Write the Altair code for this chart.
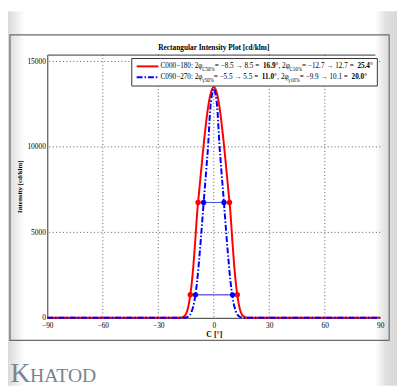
import altair as alt
import pandas as pd

# ---------------- data ----------------
angles = [-90, -60, -30, -25, -20, -19, -18, -17, -16, -15, -14, -13, -12, -11, -10,
          -9, -8, -7, -6, -5, -4, -3, -2, -1, 0, 1, 2, 3, 4, 5, 6, 7, 8, 9, 10,
          11, 12, 13, 14, 15, 16, 17, 18, 19, 20, 25, 30, 60, 90]
red_c000 = [0, 0, 0, 0, 0, 4, 12, 35, 90, 230, 550, 1130, 1950, 3100, 4550,
            6150, 7310, 8440, 9560, 10630, 11580, 12380, 12990, 13370, 13500,
            13370, 12990, 12380, 11580, 10630, 9560, 8440, 7310, 6150, 4550,
            3100, 1950, 1130, 550, 230, 90, 35, 12, 4, 0, 0, 0, 0, 0]
blue_c090 = [0, 0, 0, 0, 0, 0, 0, 0, 8, 25, 65, 160, 360, 720, 1300,
             2150, 3300, 4600, 6000, 7400, 8750, 10200, 12100, 13050, 13400,
             13050, 12100, 10200, 8750, 7400, 6000, 4600, 3300, 2150, 1300,
             720, 360, 160, 65, 25, 8, 0, 0, 0, 0, 0, 0, 0, 0]

red_mark_angles = [-12.7, -8.5, 8.5, 12.7]
red_mark_values = [1350, 6750, 6750, 1350]
blue_mark_angles = [-9.9, -5.5, 5.5, 10.1]
blue_mark_values = [1350, 6750, 6750, 1350]

red_span_left = [-8.5, -12.7]
red_span_right = [8.5, 12.7]
blue_span_left = [-5.5, -9.9]
blue_span_right = [5.5, 10.1]
span_values = [6750, 1350]

x_ticks = [-90, -60, -30, 0, 30, 60, 90]
y_ticks = [0, 5000, 10000, 15000]

title_text = "Rectangular Intensity Plot [cd/klm]"
x_title = "C [°]"
y_title = "Intensity [cd/klm]"

legend_line1 = [("C000−180: 2φ", "n"), ("C50%", "s"), (" = −8.5 → 8.5 = ", "n"),
                ("16.9°", "b"), (", 2φ", "n"), ("C10%", "s"),
                (" = −12.7 → 12.7 = ", "n"), ("25.4°", "b")]
legend_line2 = [("C090−270: 2φ", "n"), ("γ50%", "s"), (" = −5.5 → 5.5 = ", "n"),
                ("11.0°", "b"), (", 2φ", "n"), ("γ10%", "s"),
                (" = −9.9 → 10.1 = ", "n"), ("20.0°", "b")]

# ---------------- layout ----------------
W, H = 339, 268
FONT = "Liberation Serif"
xs = alt.Scale(domain=[-90, 90], nice=False, zero=False)
ys = alt.Scale(domain=[0, 15400], nice=False)

xaxis = alt.Axis(values=x_ticks, grid=False, ticks=False, domain=False, zindex=1,
                 labelFont=FONT, labelFontSize=7.5, labelColor="black",
                 labelPadding=4, labelFlush=False, labelOverlap=False,
                 titleFont=FONT, titleFontSize=8, titleFontWeight="bold",
                 titleColor="black", titlePadding=2)
yaxis = alt.Axis(values=y_ticks, grid=False, ticks=False, domain=False, format="d", zindex=1,
                 labelFont=FONT, labelFontSize=7.5, labelColor="black",
                 labelPadding=2, labelOverlap=False,
                 titleFont=FONT, titleFontSize=7, titleFontWeight="bold",
                 titleColor="black", titlePadding=4)

df = pd.DataFrame({"angle": angles, "red": red_c000, "blue": blue_c090})
dm_red = pd.DataFrame({"angle": red_mark_angles, "v": red_mark_values})
dm_blue = pd.DataFrame({"angle": blue_mark_angles, "v": blue_mark_values})
ds_red = pd.DataFrame({"a": red_span_left, "b": red_span_right, "v": span_values})
ds_blue = pd.DataFrame({"a": blue_span_left, "b": blue_span_right, "v": span_values})
dgx = pd.DataFrame({"t": x_ticks[1:-1]})
dgy = pd.DataFrame({"t": y_ticks[1:]})
dummy = pd.DataFrame({"d": [0]})

X = lambda f: alt.X(f, scale=xs, axis=xaxis, title=x_title)
Y = lambda f: alt.Y(f, scale=ys, axis=yaxis, title=y_title)

layers = []

# background decorations (outside plot area)
left_grad = alt.LinearGradient(gradient="linear", x1=0, x2=1, y1=0, y2=0,
                               stops=[alt.GradientStop(color="#d9d9d9", offset=0),
                                      alt.GradientStop(color="#ffffff", offset=1)])
right_grad = alt.LinearGradient(gradient="linear", x1=0, x2=1, y1=0, y2=0,
                                stops=[alt.GradientStop(color="#ffffff", offset=0),
                                       alt.GradientStop(color="#e2e2e2", offset=0.45),
                                       alt.GradientStop(color="#d6d6d6", offset=1)])
layers.append(alt.Chart(dummy).mark_rect(color=left_grad).encode(
    x=alt.value(-40), x2=alt.value(-23), y=alt.value(-44), y2=alt.value(H + 69)))
layers.append(alt.Chart(dummy).mark_rect(color=right_grad).encode(
    x=alt.value(334), x2=alt.value(W + 17), y=alt.value(-44), y2=alt.value(H + 69)))
layers.append(alt.Chart(dummy).mark_rect(fill="transparent", stroke="#6a6a6a", strokeWidth=1.2).encode(
    x=alt.value(-38), x2=alt.value(348), y=alt.value(-20), y2=alt.value(291)))

# grid (dotted)
layers.append(alt.Chart(dgx).mark_rule(color="#333", strokeWidth=0.8, strokeDash=[1, 2.5]).encode(
    x=X("t:Q")))
layers.append(alt.Chart(dgy).mark_rule(color="#333", strokeWidth=0.8, strokeDash=[1, 2.5]).encode(
    y=Y("t:Q")))

# title
layers.append(alt.Chart(dummy).mark_text(align="center", baseline="alphabetic", font=FONT,
                                         fontSize=7.5, fontWeight="bold", color="black").encode(
    x=alt.value(W / 2), y=alt.value(-4.5), text=alt.value(title_text)))

# curves
layers.append(alt.Chart(df).mark_line(color="#ff0000", strokeWidth=2, interpolate="monotone").encode(
    x=X("angle:Q"), y=Y("red:Q")))
layers.append(alt.Chart(df).mark_line(color="#0000ff", strokeWidth=2, interpolate="monotone",
                                      strokeDash=[6, 2, 1.5, 2]).encode(
    x=X("angle:Q"), y=Y("blue:Q")))

# width spans and markers
layers.append(alt.Chart(ds_red).mark_rule(color="#ff3030", strokeWidth=1).encode(
    x=X("a:Q"), x2="b:Q", y=Y("v:Q")))
layers.append(alt.Chart(ds_blue).mark_rule(color="#4060ff", strokeWidth=1).encode(
    x=X("a:Q"), x2="b:Q", y=Y("v:Q")))
layers.append(alt.Chart(dm_red).mark_circle(color="#ff0000", size=30, opacity=1).encode(
    x=X("angle:Q"), y=Y("v:Q")))
layers.append(alt.Chart(dm_blue).mark_circle(color="#0000ff", size=28, opacity=1).encode(
    x=X("angle:Q"), y=Y("v:Q")))

# legend box
layers.append(alt.Chart(dummy).mark_rect(fill="white", stroke="#333", strokeWidth=1).encode(
    x=alt.value(86), x2=alt.value(336), y=alt.value(4), y2=alt.value(32)))
layers.append(alt.Chart(dummy).mark_rule(color="#ff0000", strokeWidth=2).encode(
    x=alt.value(91), x2=alt.value(113), y=alt.value(12)))
layers.append(alt.Chart(dummy).mark_rule(color="#0000ff", strokeWidth=2, strokeDash=[6, 2, 1.5, 2]).encode(
    x=alt.value(91), x2=alt.value(113), y=alt.value(23)))

CW = {" ": 250, "0": 500, "1": 500, "2": 500, "3": 500, "4": 500, "5": 500, "6": 500,
      "7": 500, "8": 500, "9": 500, ".": 250, ":": 278, ",": 250, "=": 564, "−": 564,
      "→": 1000, "C": 667, "%": 833, "°": 400, "φ": 521, "γ": 450}
FS = 7.33
SUB = 0.7


def text_width(s, size):
    return sum(CW.get(c, 500) for c in s) * size / 1000.0


def legend_row(pieces, y):
    out = []
    x = 115.3
    for txt, kind in pieces:
        size = FS * SUB if kind == "s" else FS
        yy = y + 2.5 if kind == "s" else y
        out.append(alt.Chart(dummy).mark_text(
            align="left", baseline="middle", font=FONT, fontSize=size,
            fontWeight="bold" if kind == "b" else "normal", color="black").encode(
            x=alt.value(x), y=alt.value(yy), text=alt.value(txt.replace(" ", "\u00a0"))))
        x += text_width(txt, size)
    return out


layers += legend_row(legend_line1, 12)
layers += legend_row(legend_line2, 23)

# logo
layers.append(alt.Chart(dummy).mark_text(align="left", baseline="alphabetic", font=FONT,
                                         fontSize=28, color="#7b8290").encode(
    x=alt.value(-37.5), y=alt.value(333), text=alt.value("K")))
layers.append(alt.Chart(dummy).mark_text(align="left", baseline="alphabetic", font=FONT,
                                         fontSize=20, color="#7b8290").encode(
    x=alt.value(-17.5), y=alt.value(333), text=alt.value("HATOD")))

chart = alt.layer(*layers).properties(
    width=W, height=H,
    autosize=alt.AutoSizeParams(type="none"),
    padding={"left": 40, "top": 44, "right": 17, "bottom": 69},
    background="white",
).configure_view(stroke="#333", strokeWidth=1)

chart.save("out.html", embed_options={"renderer": "svg", "actions": False})
